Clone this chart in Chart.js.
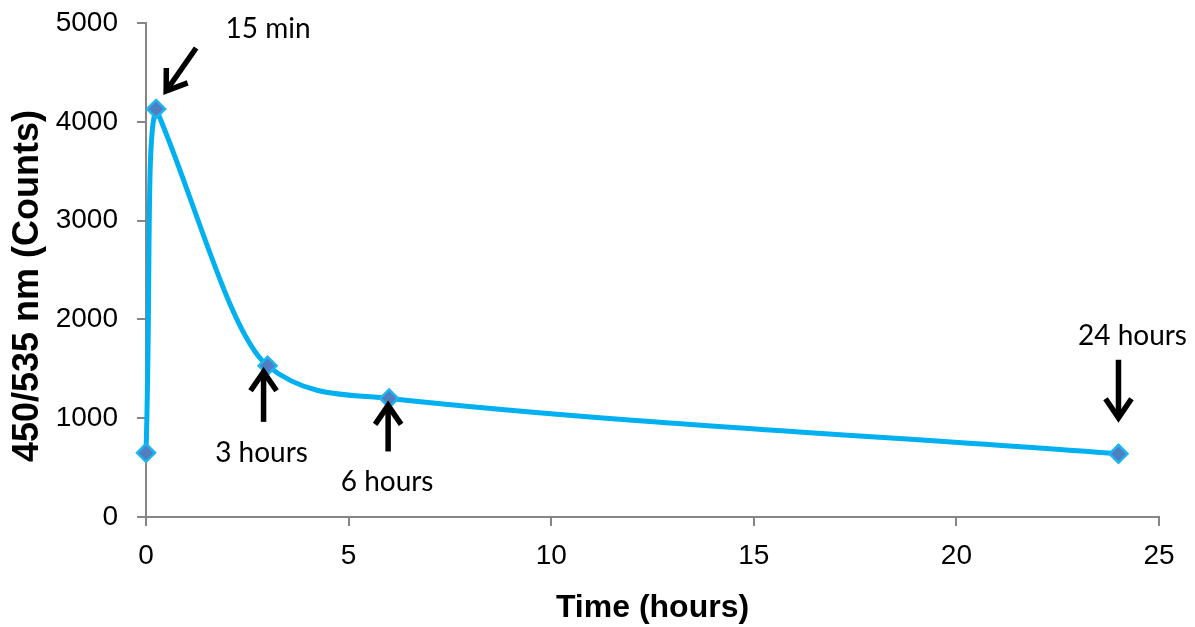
<!DOCTYPE html>
<html>
<head>
<meta charset="utf-8">
<script src="https://cdn.jsdelivr.net/npm/chart.js@4/dist/chart.umd.min.js"></script>
<style>
  html, body { margin: 0; padding: 0; background: #fff; }
  #wrap { width: 1195px; height: 627px; }
</style>
</head>
<body>
<div id="wrap"><canvas id="chart" width="1195" height="627"></canvas></div>
<script>
// time after dosing (hours) and the 450/535 nm reading at each time
const hours = [0, 0.25, 3, 6, 24];
const counts = [650, 4130, 1530, 1200, 640];

// axis ranges and steps
const xTicks = [0, 5, 10, 15, 20, 25];
const yTicks = [0, 1000, 2000, 3000, 4000, 5000];

// callouts: which point they point at and what they say
const calloutPoints = [1, 2, 3, 4];
const calloutTexts = ['15 min', '3 hours', '6 hours', '24 hours'];

const yTitle = '450/535 nm (Counts)';
const xTitle = 'Time (hours)';

const lineBlue = '#00B0F0';
const axisGrey = '#868686';
const tickFont = 'Liberation Sans, Arial, sans-serif';

// pixel offsets from the point: text centre, arrow tail, arrow tip
const calloutLayout = [
  { text: [112, -80], tail: [40, -61], tip: [10, -18] },
  { text: [-6, 87], tail: [-4, 56], tip: [-4, 6] },
  { text: [-2, 84], tail: [-1, 53], tip: [-1, 7] },
  { text: [14, -118], tail: [0, -94], tip: [0, -36] }
];

const pts = hours.map((h, i) => ({ x: h, y: counts[i] }));

function drawArrow(ctx, x1, y1, x2, y2) {
  const ang = Math.atan2(y2 - y1, x2 - x1);
  const head = 23, spread = 0.6;
  ctx.save();
  ctx.strokeStyle = '#000';
  ctx.lineWidth = 5.5;
  ctx.lineCap = 'butt';
  ctx.lineJoin = 'miter';
  ctx.beginPath();
  ctx.moveTo(x1, y1);
  ctx.lineTo(x2 - Math.cos(ang) * 3, y2 - Math.sin(ang) * 3);
  ctx.stroke();
  ctx.beginPath();
  ctx.moveTo(x2 - head * Math.cos(ang - spread), y2 - head * Math.sin(ang - spread));
  ctx.lineTo(x2, y2);
  ctx.lineTo(x2 - head * Math.cos(ang + spread), y2 - head * Math.sin(ang + spread));
  ctx.stroke();
  ctx.restore();
}

const calloutPlugin = {
  id: 'callouts',
  afterDatasetsDraw(chart) {
    const ctx = chart.ctx;
    const xs = chart.scales.x, ys = chart.scales.y;
    calloutPoints.forEach((idx, i) => {
      const px = xs.getPixelForValue(hours[idx]);
      const py = ys.getPixelForValue(counts[idx]);
      const lay = calloutLayout[i];
      drawArrow(ctx, px + lay.tail[0], py + lay.tail[1], px + lay.tip[0], py + lay.tip[1]);
      ctx.save();
      ctx.fillStyle = '#000';
      ctx.font = '28px Lato, "Open Sans", sans-serif';
      ctx.textAlign = 'center';
      ctx.textBaseline = 'middle';
      ctx.fillText(calloutTexts[i], px + lay.text[0], py + lay.text[1]);
      ctx.restore();
    });
  },
  afterDraw(chart) {
    // vertical axis title, sitting a little below the middle of the plot
    const ctx = chart.ctx;
    const area = chart.chartArea;
    ctx.save();
    ctx.translate(28, (area.top + area.bottom) / 2 + 16);
    ctx.rotate(-Math.PI / 2);
    ctx.fillStyle = '#000';
    ctx.font = 'bold 36px ' + tickFont;
    ctx.textAlign = 'center';
    ctx.textBaseline = 'middle';
    ctx.fillText(yTitle, 0, 0);
    ctx.restore();
  }
};

new Chart(document.getElementById('chart').getContext('2d'), {
  type: 'scatter',
  data: {
    datasets: [
      {
        // markers
        data: pts,
        showLine: false,
        pointStyle: 'rectRot',
        pointRadius: 9,
        pointHoverRadius: 9,
        pointBackgroundColor: '#4F7FC0',
        pointBorderColor: '#1FB4F0',
        pointBorderWidth: 2.5,
        clip: false
      },
      {
        // steep rise up to the 15 min peak
        data: pts.slice(0, 3),
        showLine: true,
        tension: 0.5,
        borderColor: lineBlue,
        borderWidth: 5,
        segment: { borderColor: (c) => c.p0DataIndex === 0 ? lineBlue : 'rgba(0,0,0,0)' },
        pointRadius: 0,
        pointHoverRadius: 0,
        clip: false
      },
      {
        // decay from the peak onwards
        data: pts.slice(1),
        showLine: true,
        cubicInterpolationMode: 'monotone',
        borderColor: lineBlue,
        borderWidth: 5,
        pointRadius: 0,
        pointHoverRadius: 0,
        clip: false
      }
    ]
  },
  options: {
    responsive: false,
    animation: false,
    devicePixelRatio: 1,
    layout: { padding: { top: 23, right: 36, left: 0, bottom: 0 } },
    plugins: {
      legend: { display: false },
      tooltip: { enabled: false }
    },
    scales: {
      x: {
        type: 'linear',
        min: xTicks[0],
        max: xTicks[xTicks.length - 1],
        afterBuildTicks: (s) => { s.ticks = xTicks.map(v => ({ value: v })); },
        afterFit: (s) => { s.height = 110; },
        grid: { drawOnChartArea: false, drawTicks: true, tickLength: 9, color: axisGrey, lineWidth: 2 },
        border: { color: axisGrey, width: 2 },
        ticks: { color: '#000', padding: 13, callback: (v) => String(v), font: { family: tickFont, size: 28 } },
        title: {
          display: true,
          text: xTitle,
          color: '#000',
          padding: { top: 13, bottom: 0 },
          font: { family: tickFont, size: 32, weight: 'bold' }
        }
      },
      y: {
        type: 'linear',
        min: yTicks[0],
        max: yTicks[yTicks.length - 1],
        afterBuildTicks: (s) => { s.ticks = yTicks.map(v => ({ value: v })); },
        afterFit: (s) => { s.width = 146; s.paddingTop = 0; s.paddingBottom = 0; },
        grid: { drawOnChartArea: false, drawTicks: true, tickLength: 9, color: axisGrey, lineWidth: 2 },
        border: { color: axisGrey, width: 2 },
        ticks: { color: '#000', padding: 19, callback: (v) => String(v), font: { family: tickFont, size: 28 } },
        title: { display: false }
      }
    }
  },
  plugins: [calloutPlugin]
});
</script>
</body>
</html>
